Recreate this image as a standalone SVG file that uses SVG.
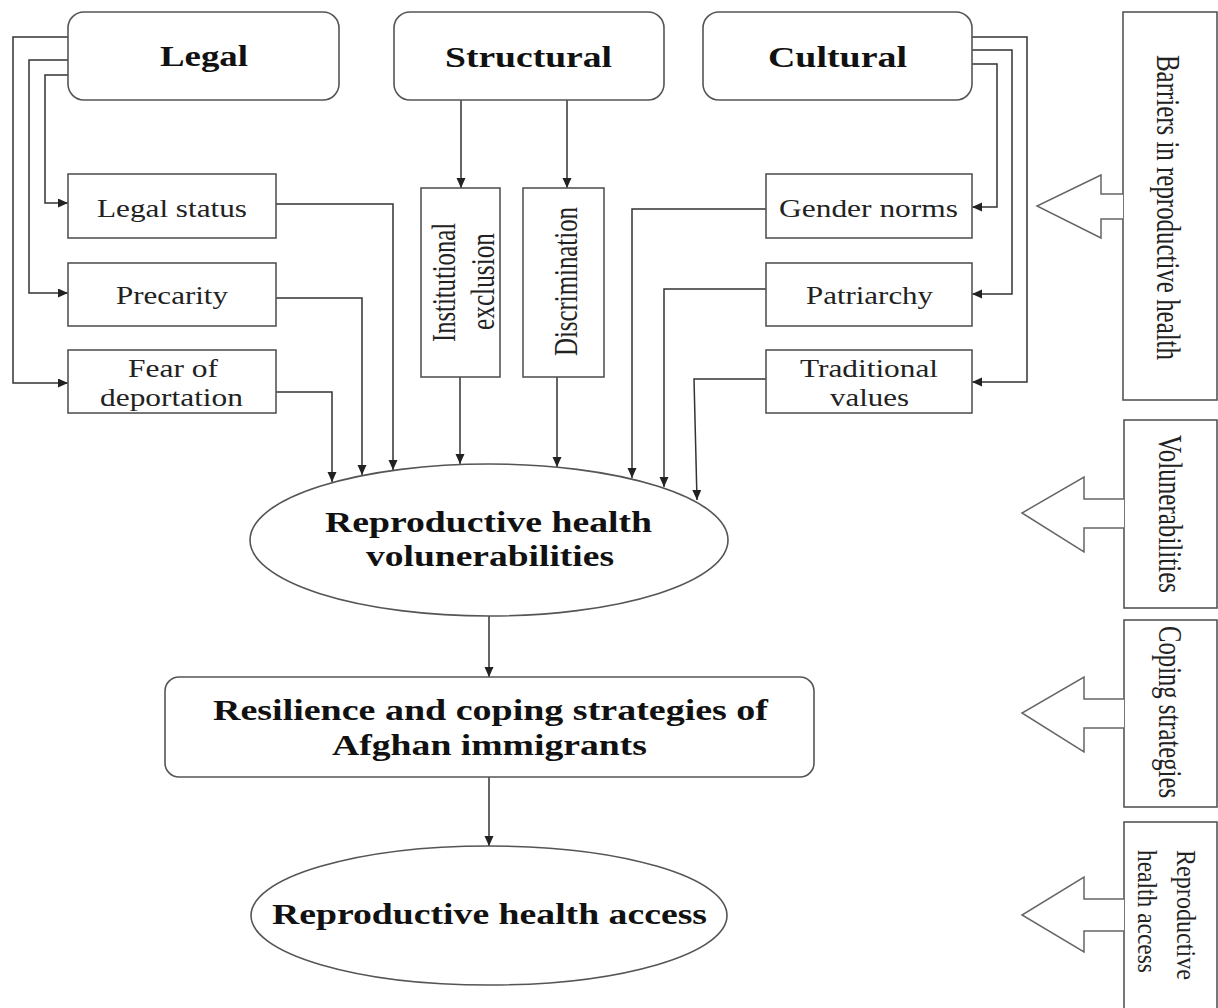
<svg xmlns="http://www.w3.org/2000/svg" width="1218" height="1008" viewBox="0 0 1218 1008">
<defs>
<marker id="ah" markerUnits="userSpaceOnUse" markerWidth="12" markerHeight="10" refX="10" refY="4.5" orient="auto">
<path d="M0,0 L10,4.5 L0,9 z" fill="#222"/>
</marker>
<style>
.box{fill:#fff;stroke:#555;stroke-width:1.6}
.con{fill:none;stroke:#333;stroke-width:1.5;marker-end:url(#ah)}
.big{fill:#fff;stroke:#666;stroke-width:1.5}
.hd{font-family:"Liberation Serif",serif;font-weight:bold;font-size:29px;fill:#111}
.tx{font-family:"Liberation Serif",serif;font-size:26px;fill:#222}
.rt{font-family:"Liberation Serif",serif;font-size:33px;fill:#222}
</style>
</defs>
<rect width="1218" height="1008" fill="#fff"/>

<g id="connectors">
<polyline class="con" points="68,37 13,37 13,383 68,383"/>
<polyline class="con" points="68,60 29,60 29,293 68,293"/>
<polyline class="con" points="68,75 45,75 45,203 68,203"/>
<polyline class="con" points="972,37 1027,37 1027,382 972,382"/>
<polyline class="con" points="972,50 1012,50 1012,294 972,294"/>
<polyline class="con" points="972,64 997,64 997,207 972,207"/>
<polyline class="con" points="461,100 461,188"/>
<polyline class="con" points="567,100 567,188"/>
<polyline class="con" points="276,204 393,204 393,470"/>
<polyline class="con" points="276,298 362,298 362,475"/>
<polyline class="con" points="276,392 332,392 332,482"/>
<polyline class="con" points="460,377 460,464"/>
<polyline class="con" points="557,377 557,467"/>
<polyline class="con" points="766,209 632,209 632,478"/>
<polyline class="con" points="766,289 664,289 664,487"/>
<polyline class="con" points="766,379 694,379 697,500"/>
<polyline class="con" points="489,616 489,677"/>
<polyline class="con" points="489,777 489,846"/>
</g>

<g id="legal"><rect class="box" x="68" y="12" width="271" height="88" rx="16"/><text class="hd" x="160" y="66" textLength="88" lengthAdjust="spacingAndGlyphs">Legal</text></g>
<g id="structural"><rect class="box" x="394" y="12" width="270" height="88" rx="16"/><text class="hd" x="445" y="67" textLength="167" lengthAdjust="spacingAndGlyphs">Structural</text></g>
<g id="cultural"><rect class="box" x="703" y="12" width="269" height="88" rx="16"/><text class="hd" x="768" y="67" textLength="139" lengthAdjust="spacingAndGlyphs">Cultural</text></g>

<g id="legal-status"><rect class="box" x="68" y="174" width="208" height="64"/><text class="tx" x="97" y="217" textLength="150" lengthAdjust="spacingAndGlyphs">Legal status</text></g>
<g id="precarity"><rect class="box" x="68" y="263" width="208" height="63"/><text class="tx" x="116" y="304" textLength="112" lengthAdjust="spacingAndGlyphs">Precarity</text></g>
<g id="fear"><rect class="box" x="68" y="350" width="208" height="63"/><text class="tx" x="128" y="377" textLength="90" lengthAdjust="spacingAndGlyphs">Fear of</text><text class="tx" x="100" y="406" textLength="143" lengthAdjust="spacingAndGlyphs">deportation</text></g>

<g id="institutional"><rect class="box" x="421" y="188" width="79" height="189"/><text class="rt" transform="translate(455,342) rotate(-90)" textLength="119" lengthAdjust="spacingAndGlyphs">Institutional</text><text class="rt" transform="translate(494,330) rotate(-90)" textLength="97" lengthAdjust="spacingAndGlyphs">exclusion</text></g>
<g id="discrimination"><rect class="box" x="523" y="188" width="81" height="189"/><text class="rt" transform="translate(577,356) rotate(-90)" textLength="149" lengthAdjust="spacingAndGlyphs">Discrimination</text></g>

<g id="gender"><rect class="box" x="766" y="174" width="206" height="64"/><text class="tx" x="779" y="217" textLength="179" lengthAdjust="spacingAndGlyphs">Gender norms</text></g>
<g id="patriarchy"><rect class="box" x="766" y="263" width="206" height="63"/><text class="tx" x="806" y="304" textLength="127" lengthAdjust="spacingAndGlyphs">Patriarchy</text></g>
<g id="traditional"><rect class="box" x="766" y="350" width="206" height="63"/><text class="tx" x="800" y="377" textLength="138" lengthAdjust="spacingAndGlyphs">Traditional</text><text class="tx" x="830" y="406" textLength="79" lengthAdjust="spacingAndGlyphs">values</text></g>

<g id="vulnerabilities"><ellipse class="box" cx="489" cy="540" rx="239" ry="76"/><text class="hd" style="font-size:30px" x="325" y="532" textLength="327" lengthAdjust="spacingAndGlyphs">Reproductive health</text><text class="hd" style="font-size:30px" x="366" y="566" textLength="248" lengthAdjust="spacingAndGlyphs">volunerabilities</text></g>
<g id="resilience"><rect class="box" x="165" y="677" width="649" height="100" rx="14"/><text class="hd" style="font-size:30px" x="213" y="720" textLength="555" lengthAdjust="spacingAndGlyphs">Resilience and coping strategies of</text><text class="hd" style="font-size:30px" x="332" y="755" textLength="315" lengthAdjust="spacingAndGlyphs">Afghan immigrants</text></g>
<g id="access"><ellipse class="box" cx="489" cy="915.5" rx="238" ry="69.5"/><text class="hd" style="font-size:30px" x="272" y="924" textLength="435" lengthAdjust="spacingAndGlyphs">Reproductive health access</text></g>

<g id="barriers-label"><rect class="box" x="1123" y="12" width="94" height="388"/><polyline class="big" points="1123,194 1101,194 1101,175 1037,206 1101,238 1101,219 1123,219"/><text class="rt" transform="translate(1157,55) rotate(90)" textLength="305" lengthAdjust="spacingAndGlyphs">Barriers in reproductive health</text></g>
<g id="vulnerabilities-label"><rect class="box" x="1124" y="420" width="93" height="188"/><polyline class="big" points="1124,499 1084,499 1084,477 1022,513 1084,552 1084,528 1124,528"/><text class="rt" transform="translate(1159,435) rotate(90)" textLength="158" lengthAdjust="spacingAndGlyphs">Volunerabilities</text></g>
<g id="coping-label"><rect class="box" x="1124" y="620" width="93" height="187"/><polyline class="big" points="1124,699 1084,699 1084,677 1022,713 1084,752 1084,728 1124,728"/><text class="rt" transform="translate(1159,626) rotate(90)" textLength="172" lengthAdjust="spacingAndGlyphs">Coping strategies</text></g>
<g id="access-label"><rect class="box" x="1124" y="822" width="93" height="200"/><polyline class="big" points="1124,899 1084,899 1084,877 1022,915 1084,952 1084,931 1124,931"/><text class="rt" style="font-size:28px" transform="translate(1177,850) rotate(90)" textLength="130" lengthAdjust="spacingAndGlyphs">Reproductive</text><text class="rt" style="font-size:28px" transform="translate(1138,850) rotate(90)" textLength="123" lengthAdjust="spacingAndGlyphs">health access</text></g>
</svg>
